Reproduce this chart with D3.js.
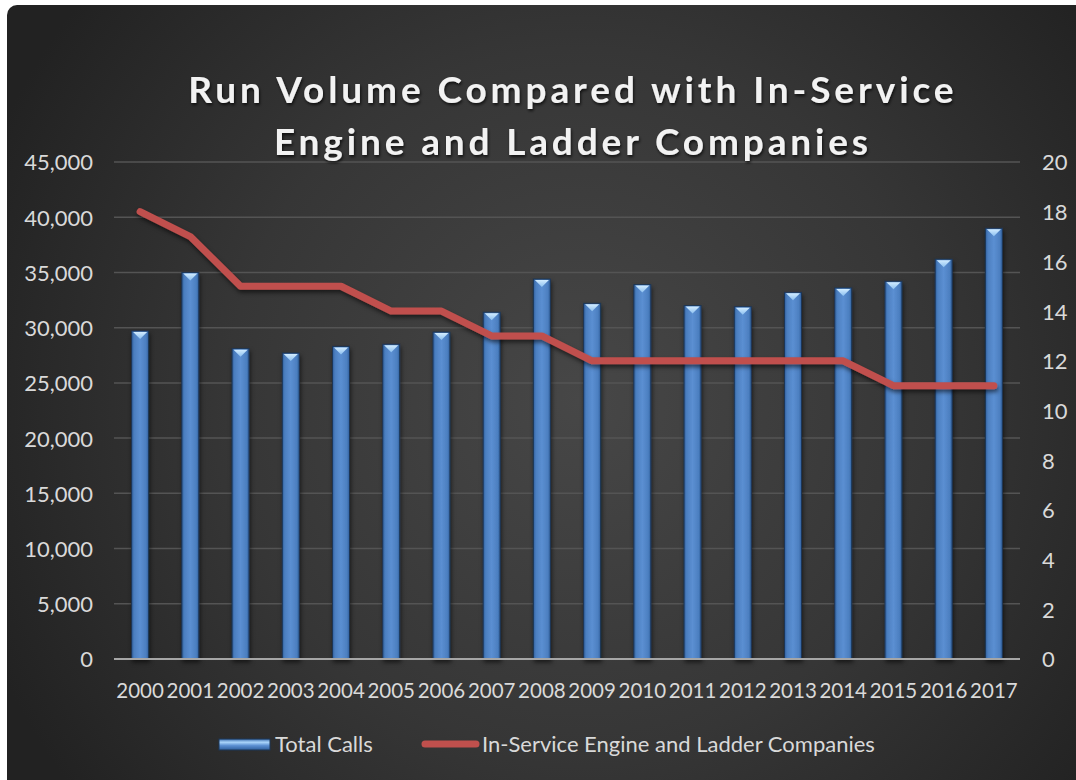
<!DOCTYPE html>
<html>
<head>
<meta charset="utf-8">
<script src="https://cdn.jsdelivr.net/npm/d3@7/dist/d3.min.js"></script>
<style>
  html, body { margin: 0; padding: 0; background: #ffffff; }
  svg { display: block; }
</style>
</head>
<body>
<svg id="chart" width="1076" height="780"></svg>
<script>
// Annual run volume and in-service company counts
const years = ["2000","2001","2002","2003","2004","2005","2006","2007","2008",
               "2009","2010","2011","2012","2013","2014","2015","2016","2017"];
const totalCalls = [29700, 35000, 28100, 27700, 28300, 28500, 29600, 31400, 34400,
                    32200, 33900, 32000, 31900, 33200, 33600, 34200, 36200, 39000];
const companies = [18, 17, 15, 15, 15, 14, 14, 13, 13, 12, 12, 12, 12, 12, 12, 11, 11, 11];
const leftTicks = [0, 5000, 10000, 15000, 20000, 25000, 30000, 35000, 40000, 45000];
const rightTicks = [0, 2, 4, 6, 8, 10, 12, 14, 16, 18, 20];
const titleLines = ["Run Volume Compared with In-Service", "Engine and Ladder Companies"];
const legendItems = ["Total Calls", "In-Service Engine and Ladder Companies"];

const svg = d3.select("#chart");
const W = 1076, H = 780;
const plot = { left: 115, right: 1019, top: 162, bottom: 659 };

const defs = svg.append("defs");

// background: dark panel, lighter toward the middle
const bg = defs.append("radialGradient").attr("id", "bgGrad")
  .attr("gradientUnits", "userSpaceOnUse")
  .attr("cx", 580).attr("cy", 400).attr("r", 640);
bg.append("stop").attr("offset", "0").attr("stop-color", "#474747");
bg.append("stop").attr("offset", "0.55").attr("stop-color", "#363636");
bg.append("stop").attr("offset", "1").attr("stop-color", "#222222");

// bar body: cylinder-like shading
const barGrad = defs.append("linearGradient").attr("id", "barGrad")
  .attr("x1", "0").attr("x2", "1").attr("y1", "0").attr("y2", "0");
[["0", "#2f5f9c"], ["0.15", "#4c7fc0"], ["0.5", "#5b8fd2"], ["0.85", "#4c7fc0"], ["1", "#2f5f9c"]]
  .forEach(([o, c]) => barGrad.append("stop").attr("offset", o).attr("stop-color", c));

const capGrad = defs.append("linearGradient").attr("id", "capGrad")
  .attr("x1", "0").attr("x2", "0").attr("y1", "0").attr("y2", "1");
capGrad.append("stop").attr("offset", "0").attr("stop-color", "#d2ecff");
capGrad.append("stop").attr("offset", "1").attr("stop-color", "#8cc0f0");

const legGrad = defs.append("linearGradient").attr("id", "legGrad")
  .attr("x1", "0").attr("x2", "0").attr("y1", "0").attr("y2", "1");
[["0", "#3d6fb0"], ["0.3", "#a9d4fa"], ["0.6", "#5b8fd2"], ["1", "#2f5f9c"]]
  .forEach(([o, c]) => legGrad.append("stop").attr("offset", o).attr("stop-color", c));

const shadow = defs.append("filter").attr("id", "shadow")
  .attr("x", "-20%").attr("y", "-20%").attr("width", "140%").attr("height", "140%");
shadow.append("feDropShadow").attr("dx", 1).attr("dy", 3).attr("stdDeviation", 2)
  .attr("flood-color", "#000").attr("flood-opacity", 0.55);

const textShadow = defs.append("filter").attr("id", "textShadow")
  .attr("x", "-10%").attr("y", "-30%").attr("width", "120%").attr("height", "160%");
textShadow.append("feDropShadow").attr("dx", 1).attr("dy", 2).attr("stdDeviation", 1.5)
  .attr("flood-color", "#000").attr("flood-opacity", 0.7);

// panel
svg.append("rect").attr("x", 7).attr("y", 5).attr("width", W - 7 + 10).attr("height", H - 5 + 10)
  .attr("rx", 10).attr("fill", "url(#bgGrad)");

// scales
const x = d3.scaleBand().domain(years).range([plot.left, plot.right]).paddingInner(0).paddingOuter(0);
const yL = d3.scaleLinear().domain([0, 45000]).range([plot.bottom, plot.top]);
const yR = d3.scaleLinear().domain([0, 20]).range([plot.bottom, plot.top]);

// gridlines
svg.append("g").selectAll("line").data(leftTicks.filter(d => d > 0)).join("line")
  .attr("x1", plot.left - 1).attr("x2", plot.right + 1)
  .attr("y1", d => yL(d)).attr("y2", d => yL(d))
  .attr("stroke", "#545454").attr("stroke-width", 1.5);

const labelFont = "Lato, 'Open Sans', sans-serif";
const labelSize = 22;

// left axis
const leftAxis = svg.append("g").attr("transform", `translate(${plot.left - 22},0)`)
  .call(d3.axisLeft(yL).tickValues(leftTicks).tickSize(0).tickPadding(0)
    .tickFormat(d3.format(",")));
leftAxis.select(".domain").remove();
leftAxis.selectAll("text").attr("fill", "#d9d9d9").attr("font-size", labelSize)
  .attr("font-family", labelFont).attr("dy", "0.36em");

// right axis
const rightAxis = svg.append("g").attr("transform", `translate(1042,0)`)
  .call(d3.axisRight(yR).tickValues(rightTicks).tickSize(0).tickPadding(0));
rightAxis.select(".domain").remove();
rightAxis.selectAll("text").attr("fill", "#d9d9d9").attr("font-size", labelSize)
  .attr("font-family", labelFont).attr("dy", "0.36em");

// bars
const bw = 17;
const bars = svg.append("g").attr("filter", "url(#shadow)");
const barG = bars.selectAll("g").data(years.map((y, i) => ({ y, v: totalCalls[i] }))).join("g")
  .attr("transform", d => `translate(${x(d.y) + x.bandwidth() / 2 - bw / 2},0)`);
barG.append("rect")
  .attr("x", 0).attr("width", bw)
  .attr("y", d => yL(d.v)).attr("height", d => yL(0) - yL(d.v))
  .attr("fill", "url(#barGrad)").attr("stroke", "#1d3656").attr("stroke-width", 1);
barG.append("path")
  .attr("d", d => {
    const t = yL(d.v) + 1;
    return `M1.5,${t} L${bw - 1.5},${t} L${bw / 2},${t + 7} Z`;
  })
  .attr("fill", "url(#capGrad)");

// baseline
svg.append("line").attr("x1", plot.left - 1).attr("x2", plot.right + 1)
  .attr("y1", plot.bottom).attr("y2", plot.bottom)
  .attr("stroke", "#a6a6a6").attr("stroke-width", 2);

// x axis labels
const xAxis = svg.append("g").attr("transform", `translate(0,${plot.bottom + 24})`)
  .call(d3.axisBottom(x).tickSize(0).tickPadding(0));
xAxis.select(".domain").remove();
xAxis.selectAll("text").attr("fill", "#d9d9d9").attr("font-size", 20.5)
  .attr("font-family", labelFont).attr("dy", "0.71em");

// company line
const line = d3.line()
  .x((d, i) => x(years[i]) + x.bandwidth() / 2)
  .y(d => yR(d));
svg.append("path").datum(companies)
  .attr("d", line)
  .attr("fill", "none").attr("stroke", "#c0504d").attr("stroke-width", 7)
  .attr("stroke-linecap", "round").attr("stroke-linejoin", "round")
  .attr("filter", "url(#shadow)");

// title
const titleFont = "Lato, 'Open Sans', sans-serif";
const titleSpec = [
  { text: titleLines[0], y: 103, width: 769, cx: 571 },
  { text: titleLines[1], y: 155, width: 598, cx: 571 }
];
const titleG = svg.append("g").attr("filter", "url(#textShadow)");
titleSpec.forEach(s => {
  const t = titleG.append("text").text(s.text)
    .attr("x", s.cx).attr("y", s.y)
    .attr("text-anchor", "middle")
    .attr("font-family", titleFont).attr("font-weight", "bold").attr("font-size", 37)
    .attr("fill", "#f2f2f2");
  const len = t.node().getComputedTextLength();
  const ls = (s.width - len) / s.text.length;
  t.attr("letter-spacing", ls.toFixed(2) + "px")
   .attr("x", s.cx + ls / 2);
});

// legend
const legend = svg.append("g");
legend.append("rect").attr("x", 219).attr("y", 739).attr("width", 51).attr("height", 11)
  .attr("fill", "url(#legGrad)").attr("stroke", "#1d3656").attr("stroke-width", 1);
legend.append("text").text(legendItems[0]).attr("x", 275).attr("y", 752)
  .attr("font-family", labelFont).attr("font-size", labelSize).attr("fill", "#d9d9d9");
legend.append("line").attr("x1", 425).attr("x2", 476).attr("y1", 744).attr("y2", 744)
  .attr("stroke", "#c0504d").attr("stroke-width", 7).attr("stroke-linecap", "round");
legend.append("text").text(legendItems[1]).attr("x", 482).attr("y", 752)
  .attr("font-family", labelFont).attr("font-size", labelSize).attr("fill", "#d9d9d9");
</script>
</body>
</html>
